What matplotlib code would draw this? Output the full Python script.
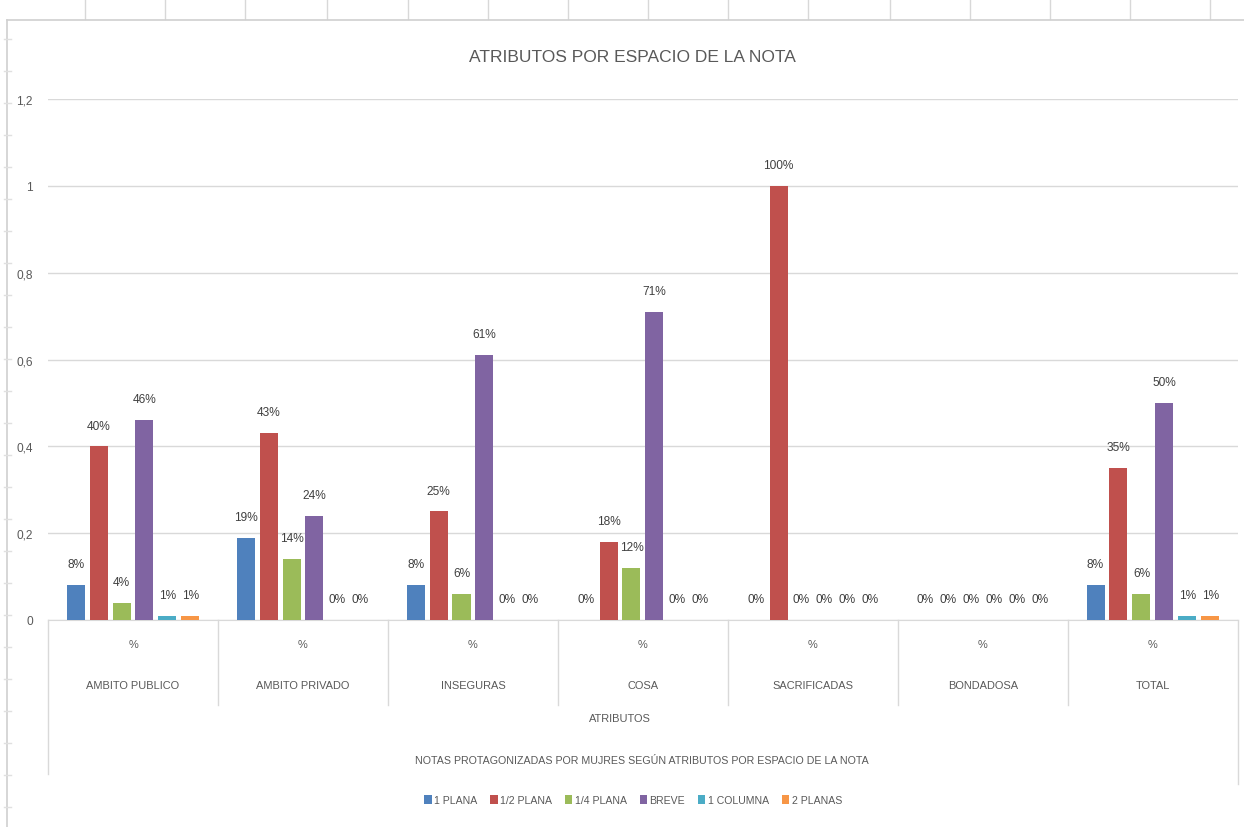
import numpy as np
import matplotlib
matplotlib.use("Agg")
import matplotlib.pyplot as plt
import matplotlib.transforms as mtransforms
from matplotlib.lines import Line2D

plt.rcParams['font.family'] = ['Liberation Sans', 'DejaVu Sans']

categorias = ["AMBITO PUBLICO", "AMBITO PRIVADO", "INSEGURAS", "COSA",
              "SACRIFICADAS", "BONDADOSA", "TOTAL"]
series = ["1 PLANA", "1/2 PLANA", "1/4 PLANA", "BREVE", "1 COLUMNA", "2 PLANAS"]
colores = ["#4F81BD", "#C0504D", "#9BBB59", "#8064A2", "#4BACC6", "#F79646"]

una_plana = [0.08, 0.19, 0.08, 0.00, 0.00, 0.00, 0.08]
media_plana = [0.40, 0.43, 0.25, 0.18, 1.00, 0.00, 0.35]
cuarto_plana = [0.04, 0.14, 0.06, 0.12, 0.00, 0.00, 0.06]
breve = [0.46, 0.24, 0.61, 0.71, 0.00, 0.00, 0.50]
una_columna = [0.01, 0.00, 0.00, 0.00, 0.00, 0.00, 0.01]
dos_planas = [0.01, 0.00, 0.00, 0.00, 0.00, 0.00, 0.01]
valores = [una_plana, media_plana, cuarto_plana, breve, una_columna, dos_planas]

texto = "#595959"
fs = 8.6
fs_cat = 7.9

fig = plt.figure(figsize=(12.44, 8.28), dpi=100)
ax = fig.add_axes([0.0386, 0.25, 0.9565, 0.6292])

x = np.arange(len(categorias))
paso = 0.135
ancho = 0.106
for i, (nombre, vals, col) in enumerate(zip(series, valores, colores)):
    pos = x + (i - 2.5) * paso
    ax.bar(pos, vals, ancho, color=col, label=nombre, zorder=3)
    for px, v in zip(pos, vals):
        ax.annotate(f"{v:.0%}", (px, v), xytext=(0, 15), textcoords="offset points",
                    ha="center", va="center", fontsize=fs, color="#404040")

ax.set_xlim(-0.5, 6.5)
ax.set_ylim(0, 1.2)
ax.set_yticks(np.arange(0, 1.21, 0.2))
ax.set_yticklabels(["0", "0,2", "0,4", "0,6", "0,8", "1", "1,2"], color=texto, fontsize=fs)
ax.tick_params(axis="y", length=0, pad=11)
ax.set_xticks([])
ax.grid(axis="y", color="#d9d9d9", linewidth=1, zorder=0)
for s in ["top", "right", "left"]:
    ax.spines[s].set_visible(False)
ax.spines["bottom"].set_color("#d9d9d9")

# etiquetas de categorías en dos niveles
tr = mtransforms.blended_transform_factory(ax.transData, fig.transFigure)
def fy(py):
    return 1 - py / 828

for i, cat in enumerate(categorias):
    ax.text(i, fy(645), "%", transform=tr, ha="center", va="center",
            fontsize=fs_cat, color=texto)
    ax.text(i, fy(686), cat, transform=tr, ha="center", va="center",
            fontsize=fs_cat, color=texto)
for k in range(1, len(categorias)):
    fig.add_artist(Line2D([k - 0.5, k - 0.5], [fy(621), fy(706)], transform=tr,
                          color="#d9d9d9", linewidth=1))
fig.add_artist(Line2D([-0.5, -0.5], [fy(621), fy(775)], transform=tr,
                      color="#d9d9d9", linewidth=1))
fig.add_artist(Line2D([6.5, 6.5], [fy(621), fy(785)], transform=tr,
                      color="#d9d9d9", linewidth=1))

fig.text(0.498, fy(719), "ATRIBUTOS", ha="center", va="center", fontsize=fs_cat, color=texto)
fig.text(0.516, fy(761), "NOTAS PROTAGONIZADAS POR MUJRES SEGÚN ATRIBUTOS POR ESPACIO DE LA NOTA",
         ha="center", va="center", fontsize=7.7, color=texto)
fig.text(0.508, fy(58), "ATRIBUTOS POR ESPACIO DE LA NOTA", ha="center", va="center",
         fontsize=12.5, color=texto)

leg = fig.legend(loc="center", bbox_to_anchor=(0.509, fy(801)), ncol=6, frameon=False,
                 fontsize=7.6, handlelength=0.7, handleheight=0.9, handletextpad=0.25,
                 columnspacing=1.2)
for t in leg.get_texts():
    t.set_color(texto)

# rejilla de la hoja de cálculo y borde del gráfico
for cx in [85, 165, 245, 327, 408, 488, 568, 648, 728, 808, 890, 970, 1050, 1130, 1210]:
    fig.add_artist(Line2D([cx / 1244, cx / 1244], [fy(0), fy(20)], color="#d8d8d8", linewidth=1))
fig.add_artist(Line2D([0.006, 1.0], [fy(21), fy(21)], color="#d0d0d0", linewidth=1.2))
fig.add_artist(Line2D([0.006, 0.006], [fy(21), 0], color="#d0d0d0", linewidth=1.2))
for ry in range(40, 828, 32):
    fig.add_artist(Line2D([0.003, 0.009], [fy(ry), fy(ry)], color="#e0e0e0", linewidth=1))

fig.savefig("out.png", dpi=100)
